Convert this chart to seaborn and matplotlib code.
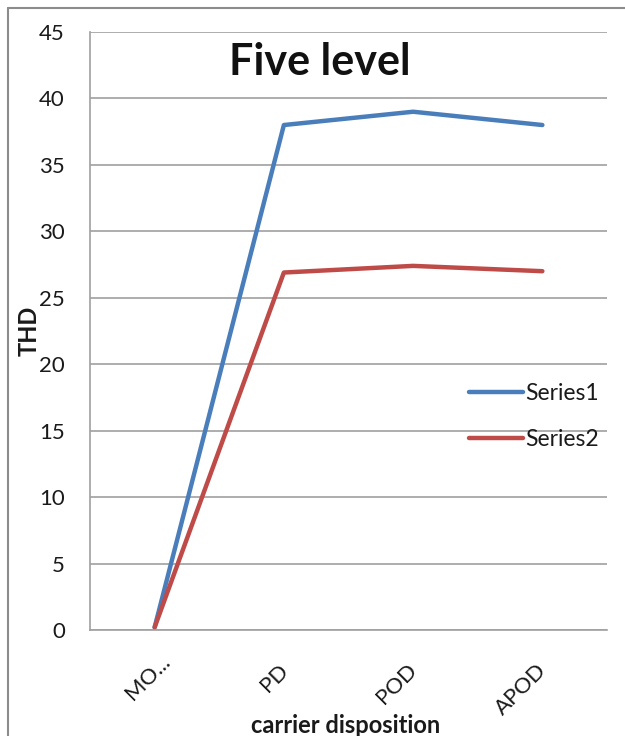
import matplotlib
matplotlib.use("Agg")
import matplotlib.pyplot as plt
import matplotlib.transforms as mtransforms
from matplotlib.lines import Line2D
import seaborn as sns
import pandas as pd

categories = ["MO...", "PD", "POD", "APOD"]
series1 = [0.2, 38.0, 39.0, 38.0]
series2 = [0.2, 26.9, 27.4, 27.0]
series_names = ["Series1", "Series2"]
y_ticks = [0, 5, 10, 15, 20, 25, 30, 35, 40, 45]

df = pd.DataFrame({
    "carrier disposition": categories * 2,
    "THD": series1 + series2,
    "series": [series_names[0]] * len(categories) + [series_names[1]] * len(categories),
})

sns.set_theme(style="white")
plt.rcParams["font.family"] = ["Lato", "DejaVu Sans"]

W, H = 625, 736
fig = plt.figure(figsize=(W / 100, H / 100), dpi=100)
ax = fig.add_axes([90 / W, 1 - 630 / H, (607 - 90) / W, (630 - 32) / H])

palette = {"Series1": "#4A7EBB", "Series2": "#BE4B48"}
sns.lineplot(data=df, x="carrier disposition", y="THD", hue="series",
             palette=palette, sort=False, linewidth=3.2, ax=ax, legend=False)

ax.set_xlim(-0.5, 3.5)
ax.set_ylim(0, 45)
ax.set_yticks(y_ticks)
ax.yaxis.grid(True, color="#a0a0a0", linewidth=1.2)
ax.set_axisbelow(True)
for side in ("top", "right"):
    ax.spines[side].set_visible(False)
for side in ("left", "bottom"):
    ax.spines[side].set_color("#a0a0a0")
    ax.spines[side].set_linewidth(1.2)

ax.tick_params(axis="y", labelsize=16, colors="#a0a0a0", labelcolor="#1a1a1a",
               length=4, width=1.2, direction="out", pad=14)
ax.tick_params(axis="x", labelsize=16, labelcolor="#1a1a1a", length=0, pad=8)
ax.set_xticks(range(len(categories)))
ax.set_xticklabels(categories, rotation=45, ha="right", rotation_mode="anchor")
for i, lbl in enumerate(ax.get_xticklabels()):
    # the truncated first label sits a little further along its baseline
    dx, dy = (5, -10) if i == 0 else (-6, -19)
    shift = mtransforms.ScaledTranslation(dx / 100, dy / 100, fig.dpi_scale_trans)
    lbl.set_transform(lbl.get_transform() + shift)

ax.set_xlabel("carrier disposition", fontsize=17, fontweight="bold", color="#1a1a1a")
ax.xaxis.set_label_coords(256 / 517, -84 / 598)
ax.set_ylabel("THD", fontsize=17, fontweight="bold", color="#1a1a1a")
ax.yaxis.set_label_coords(-49 / 517, 0.5)

ax.text(230 / 517, 1 - 30 / 598, "Five level", transform=ax.transAxes,
        fontsize=31, fontweight="bold", ha="center", va="center", color="#111111")

handles = [Line2D([], [], color=palette[s], linewidth=3.2) for s in series_names]
leg = ax.legend(handles, series_names, loc="upper left",
                bbox_to_anchor=(370 / 517, 1 - 342 / 598), frameon=False,
                fontsize=16.5, handlelength=2.35, handletextpad=0.1,
                labelspacing=1.1, borderaxespad=0)
for t in leg.get_texts():
    t.set_color("#1a1a1a")

# outer chart frame
fig.add_artist(Line2D([8 / W, 8 / W], [0, 1 - 8 / H], transform=fig.transFigure,
                      color="#8c8c8c", linewidth=1.5))
fig.add_artist(Line2D([8 / W, 1], [1 - 8 / H, 1 - 8 / H], transform=fig.transFigure,
                      color="#8c8c8c", linewidth=1.5))

fig.savefig("out.png", dpi=100, facecolor="white")
